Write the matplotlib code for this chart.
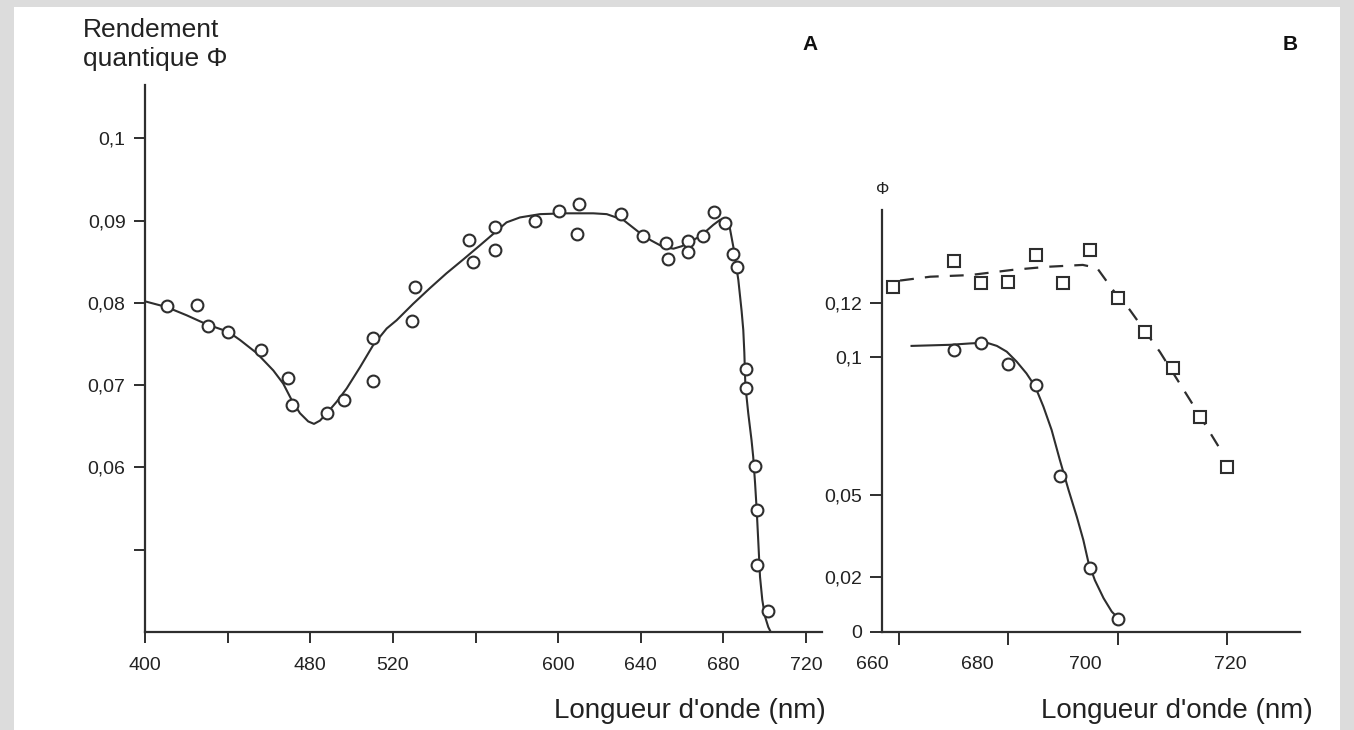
import matplotlib
matplotlib.use("Agg")
import matplotlib.pyplot as plt
import matplotlib.transforms as mtransforms
from matplotlib.patches import Rectangle

plt.rcParams['font.family'] = ['Liberation Sans', 'DejaVu Sans']
plt.rcParams['lines.scale_dashes'] = False

INK = '#2e2e2e'

# --- panel A : rendement quantique en fonction de la longueur d'onde ---
a_pts_x = [410.5, 425.3, 430.3, 440.3, 456.1, 469.4, 471.0, 488.0, 496.3, 510.2,
           510.2, 529.1, 530.7, 557.0, 559.0, 569.4, 569.4, 588.8, 600.4, 609.3,
           610.2, 630.2, 640.9, 652.2, 653.0, 662.7, 663.0, 669.9, 675.6, 680.9,
           684.5, 686.7, 690.8, 690.8, 695.3, 696.4, 696.4, 701.4]
a_pts_y = [0.0796, 0.0797, 0.0772, 0.0765, 0.0743, 0.0709, 0.0676, 0.0666, 0.0682, 0.0757,
           0.0705, 0.0778, 0.0820, 0.0876, 0.0850, 0.0892, 0.0864, 0.0900, 0.0912, 0.0884,
           0.0920, 0.0908, 0.0882, 0.0873, 0.0853, 0.0875, 0.0862, 0.0882, 0.0910, 0.0897,
           0.0860, 0.0844, 0.0720, 0.0697, 0.0602, 0.0548, 0.0481, 0.0425]

# trace
a_curve_x = [400, 410.5, 420.2, 429.9, 440.3, 446.0, 454.1, 462.1, 466.9, 471.0,
             475.0, 479.0, 481.8, 484.7, 488.0, 492.8, 497.6, 504.1, 510.5, 517.0,
             521.8, 529.8, 537.9, 545.9, 554.1, 562.1, 568.6, 575.0, 581.5, 591.2,
             604.0, 617.0, 623.5, 631.5, 639.6, 645.0, 650.9, 655.8, 659.8, 663.8,
             667.8, 671.9, 675.1, 678.3, 681.2, 682.8, 684.8, 687.2, 688.8, 689.6,
             690.1, 690.6, 692.0, 693.6, 694.4, 695.3, 696.1, 696.9, 697.7, 698.8,
             700.1, 701.7, 703.3]
a_curve_y = [0.0802, 0.0795, 0.0785, 0.0774, 0.0765, 0.0755, 0.0739, 0.0718, 0.0702,
             0.0682, 0.0666, 0.0656, 0.0653, 0.0657, 0.0666, 0.0680, 0.0696, 0.0722,
             0.0749, 0.0769, 0.0779, 0.0799, 0.0818, 0.0836, 0.0853, 0.0870, 0.0884,
             0.0898, 0.0904, 0.0908, 0.0909, 0.0909, 0.0908, 0.0901, 0.0885, 0.0876,
             0.0868, 0.0866, 0.0869, 0.0874, 0.0880, 0.0888, 0.0895, 0.0901, 0.0902,
             0.0895, 0.0868, 0.0828, 0.0790, 0.0767, 0.0740, 0.0700, 0.0666, 0.0633,
             0.0613, 0.0581, 0.0548, 0.0508, 0.0467, 0.0439, 0.0419, 0.0406, 0.0398]

a_xticks = [400, 440, 480, 520, 560, 600, 640, 680, 720]
a_xlabels = ['400', '', '480', '520', '', '600', '640', '680', '720']
a_yticks = [0.05, 0.06, 0.07, 0.08, 0.09, 0.1]
a_ylabels = ['', '0,06', '0,07', '0,08', '0,09', '0,1']

# --- panel B ---
b_circ_x = [670, 675, 680, 685, 689.5, 695, 700]
b_circ_y = [0.1027, 0.1052, 0.0976, 0.0900, 0.0568, 0.0234, 0.0046]
b_sq_x = [659, 670, 675, 680, 685, 690, 695, 700, 705, 710, 715, 720]
b_sq_y = [0.1258, 0.1353, 0.1270, 0.1273, 0.1373, 0.1270, 0.1392, 0.1216,
          0.1094, 0.0961, 0.0782, 0.0602]

b_solid_x = [662.3, 669.3, 673.0, 676.0, 677.9, 679.7, 681.5, 683.3, 684.9, 686.4,
             687.9, 689.4, 691.0, 692.5, 693.7, 694.6, 695.8, 697.4, 698.9, 700.3]
b_solid_y = [0.1042, 0.1046, 0.1051, 0.1054, 0.1042, 0.1021, 0.0985, 0.0942,
             0.0894, 0.0821, 0.0736, 0.0627, 0.0517, 0.0420, 0.0335, 0.0256,
             0.0189, 0.0123, 0.0074, 0.0046]
b_dash_x = [660.2, 665.7, 673, 680.8, 687, 693.6, 696.2, 699.1, 702.2, 707.7,
            713.2, 719.2]
b_dash_y = [0.128, 0.1294, 0.130, 0.1319, 0.133, 0.1337, 0.1326, 0.1246,
            0.1173, 0.102, 0.0845, 0.065]

b_xticks = [660, 680, 700, 720]
b_xlabels = ['660', '680', '700', '720']
b_label_shift = [-27, -31, -32, 3]   # pixels, labels are off-centre in the scan
b_yticks = [0, 0.02, 0.05, 0.1, 0.12]
b_ylabels = ['0', '0,02', '0,05', '0,1', '0,12']

W, H = 1354, 730
fig = plt.figure(figsize=(W / 100, H / 100), dpi=100, facecolor='#dcdcdc')
fig.patches.append(Rectangle((14 / W, 0), (1340 - 14) / W, (H - 7) / H,
                             transform=fig.transFigure, facecolor='white',
                             edgecolor='none', zorder=-5))


def box(left, right, top, bottom):
    return [left / W, 1 - bottom / H, (right - left) / W, (bottom - top) / H]


def style(ax, tick_len):
    for s in ['top', 'right']:
        ax.spines[s].set_visible(False)
    for s in ['left', 'bottom']:
        ax.spines[s].set_color(INK)
        ax.spines[s].set_linewidth(1.6)
    ax.set_facecolor('none')
    ax.tick_params(direction='out', length=tick_len, width=1.4, color=INK,
                   labelcolor='#222222', labelsize=14)


# panel A
axA = fig.add_axes(box(145, 822, 85, 632))
style(axA, 8)
axA.set_xlim(400, 727.7)
axA.set_ylim(0.04, 0.1065)
axA.plot(a_curve_x, a_curve_y, color=INK, lw=1.5, zorder=2)
axA.plot(a_pts_x, a_pts_y, 'o', ms=8.5, mfc='white', mec=INK, mew=1.5, zorder=3)
axA.set_xticks(a_xticks)
axA.set_xticklabels(a_xlabels)
axA.set_yticks(a_yticks)
axA.set_yticklabels(a_ylabels)
axA.tick_params(axis='x', pad=10)
axA.tick_params(axis='y', pad=6)

# panel B
axB = fig.add_axes(box(882, 1300, 210, 632))
style(axB, 9)
axB.set_xlim(656.9, 733.3)
axB.set_ylim(0, 0.1537)
axB.plot(b_solid_x, b_solid_y, color=INK, lw=1.5, zorder=2)
dash, = axB.plot(b_dash_x, b_dash_y, color=INK, lw=1.6, zorder=2)
dash.set_dashes([10, 8])
axB.plot(b_circ_x, b_circ_y, 'o', ms=8.5, mfc='white', mec=INK, mew=1.5, zorder=3)
axB.plot(b_sq_x, b_sq_y, 's', ms=8.5, mfc='white', mec=INK, mew=1.5, zorder=3)
axB.set_xticks(b_xticks)
axB.set_xticklabels(b_xlabels)
axB.set_yticks(b_yticks)
axB.set_yticklabels(b_ylabels)
axB.tick_params(axis='x', pad=8)
axB.tick_params(axis='y', pad=5)
for lab, dx in zip(axB.get_xticklabels(), b_label_shift):
    lab.set_transform(lab.get_transform() +
                      mtransforms.ScaledTranslation(dx / 100, 0, fig.dpi_scale_trans))

# texts
fig.text(83 / W, 1 - 18 / H, "Rendement\nquantique Φ", ha='left', va='top',
         fontsize=19, color='#222222', linespacing=1.25)
fig.text(810 / W, 1 - 45 / H, "A", ha='center', va='center', fontsize=15,
         fontweight='bold', color='#111111')
fig.text(1290 / W, 1 - 45 / H, "B", ha='center', va='center', fontsize=15,
         fontweight='bold', color='#111111')
fig.text(883 / W, 1 - 190 / H, "Φ", ha='center', va='center', fontsize=12,
         color='#222222')
fig.text(826 / W, 1 - 711 / H, "Longueur d'onde (nm)", ha='right', va='center',
         fontsize=20, color='#222222')
fig.text(1313 / W, 1 - 711 / H, "Longueur d'onde (nm)", ha='right', va='center',
         fontsize=20, color='#222222')

fig.savefig('out.png', dpi=100, facecolor=fig.get_facecolor())
